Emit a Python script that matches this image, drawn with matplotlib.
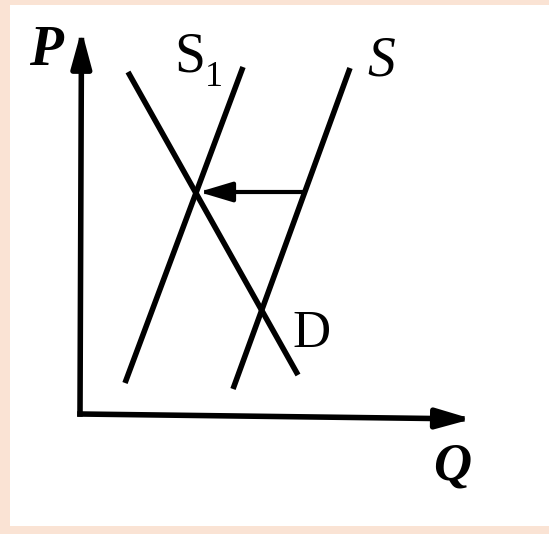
import matplotlib.pyplot as plt
from matplotlib.patches import Rectangle

# curve end points in (Q, P) units
d_q = [4.8, 21.8]
d_p = [34.2, 3.9]
s1_q = [4.5, 16.3]
s1_p = [3.1, 34.7]
s_q = [15.3, 27.0]
s_p = [2.5, 34.6]

# shift arrow from S to S1
shift_q = [22.3, 11.9]
shift_p = [22.2, 22.2]

# axis arrow tips
p_axis_tip = (0.15, 38.4)
q_axis_tip = (39.2, -0.5)

labels = {
    'P': (-3.4, 36.3),
    'Q': (37.2, -5.2),
    'S': (30.1, 35.2),
    'D': (23.1, 8.0),
}
s1_label = (11.0, 35.6)
s1_sub = (13.4, 33.7)

peach = '#fae3d4'
serif = 'Liberation Serif'

fig = plt.figure(figsize=(5.49, 5.34), dpi=100, facecolor=peach)
fig.patches.append(Rectangle((10 / 549, 8 / 534), 539 / 549, 521 / 534,
                             transform=fig.transFigure, facecolor='white',
                             edgecolor='none', zorder=-1))
ax = fig.add_axes([0, 0, 1, 1])
ax.set_xlim(-8, 46.9)
ax.set_ylim(-12, 41.4)
ax.axis('off')
ax.patch.set_alpha(0)

lw = 4.0
ax.plot(d_q, d_p, color='black', lw=lw, solid_capstyle='butt')
ax.plot(s1_q, s1_p, color='black', lw=lw, solid_capstyle='butt')
ax.plot(s_q, s_p, color='black', lw=lw, solid_capstyle='butt')


def arrow(tip, start, hl, hw, width):
    ax.annotate('', xy=tip, xytext=start,
                arrowprops=dict(arrowstyle=f'-|>,head_length={hl},head_width={hw}',
                                lw=width, color='black', shrinkA=0, shrinkB=0,
                                mutation_scale=1, capstyle='projecting'))


arrow(p_axis_tip, (0, 0), 22, 6, 4.0)
arrow(q_axis_tip, (0, 0), 21, 6, 4.0)
arrow((shift_q[1], shift_p[1]), (shift_q[0], shift_p[0]), 20, 6, 3.0)

ax.text(*labels['P'], 'P', family=serif, style='italic', weight='bold',
        fontsize=40, ha='center', va='center')
ax.text(*labels['Q'], 'Q', family=serif, style='italic', weight='bold',
        fontsize=38, ha='center', va='center')
ax.text(*labels['S'], 'S', family=serif, style='italic',
        fontsize=40, ha='center', va='center')
ax.text(*labels['D'], 'D', family=serif, fontsize=38, ha='center', va='center')
ax.text(*s1_label, 'S', family=serif, fontsize=40, ha='center', va='center')
ax.text(*s1_sub, '1', family=serif, fontsize=26, ha='center', va='center')

fig.savefig('out.png', dpi=100, facecolor=peach)
